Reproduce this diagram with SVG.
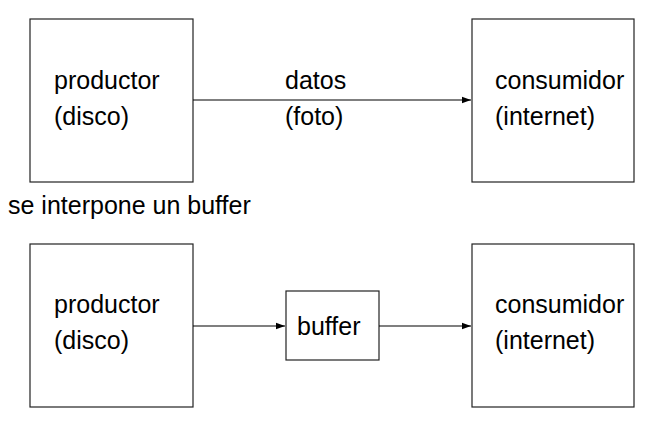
<svg xmlns="http://www.w3.org/2000/svg" width="664" height="426" viewBox="0 0 664 426">
<style>
.box{fill:#fff;stroke:#222;stroke-width:1.2}
.t{font-family:"Liberation Sans",Arial,sans-serif;font-size:25px;fill:#000}
.c{stroke:#000;stroke-width:1.2;fill:none}
</style>
<defs>
<marker id="ah" markerWidth="10" markerHeight="8" refX="9" refY="4" orient="auto" markerUnits="userSpaceOnUse">
<path d="M0,0.8 L9,4 L0,7.2 z" fill="#000"/>
</marker>
</defs>
<rect width="664" height="426" fill="#fff"/>
<g id="prod1"><rect class="box" x="30" y="19" width="163" height="163"/>
<text class="t" x="54" y="89">productor</text><text class="t" x="54" y="125">(disco)</text></g>
<g id="cons1"><rect class="box" x="472" y="19" width="162" height="163"/>
<text class="t" x="495" y="89">consumidor</text><text class="t" x="495" y="125">(internet)</text></g>
<text class="t" x="8" y="214">se interpone un buffer</text>
<g id="prod2"><rect class="box" x="30" y="244" width="163" height="163"/>
<text class="t" x="54" y="313">productor</text><text class="t" x="54" y="349">(disco)</text></g>
<g id="buffer"><rect class="box" x="286" y="291" width="93" height="69"/>
<text class="t" x="297" y="335">buffer</text></g>
<g id="cons2"><rect class="box" x="472" y="244" width="162" height="163"/>
<text class="t" x="495" y="313">consumidor</text><text class="t" x="495" y="349">(internet)</text></g>
<g id="connectors">
<line class="c" x1="193" y1="100" x2="471" y2="100" marker-end="url(#ah)"/>
<text class="t" x="285" y="89">datos</text><text class="t" x="285" y="125">(foto)</text>
<line class="c" x1="193" y1="326" x2="285" y2="326" marker-end="url(#ah)"/>
<line class="c" x1="379" y1="326" x2="471" y2="326" marker-end="url(#ah)"/>
</g>
</svg>
